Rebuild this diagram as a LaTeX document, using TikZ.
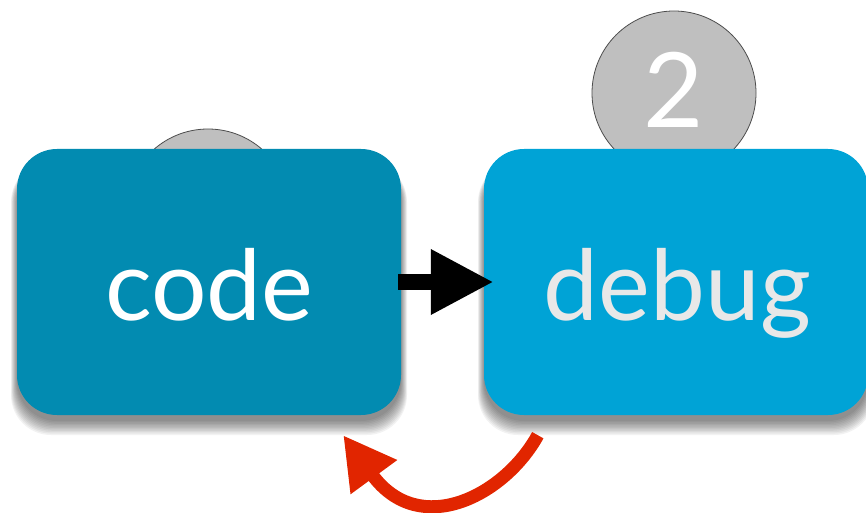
\documentclass[tikz,border=0pt]{standalone}
\usepackage{fontspec}
\setmainfont{Lato}
\usetikzlibrary{arrows.meta,calc}
\definecolor{codeblue}{HTML}{028BB1}
\definecolor{debugblue}{HTML}{00A3D6}
\definecolor{loopred}{HTML}{E12500}
\definecolor{badgegray}{HTML}{BFBFBF}
\definecolor{debugtext}{HTML}{E8E8E8}
\tikzset{
  stagebox/.style={rounded corners=40pt, minimum width=384pt, minimum height=266pt, inner sep=0pt, draw=none},
  badge/.style={circle, minimum size=164pt, inner sep=0pt, fill=badgegray, draw=black!70, line width=0.8pt},
  bigtext/.style={font=\fontsize{98}{110}\selectfont, inner sep=0pt, anchor=base},
  boxshadow/.style={fill=black, opacity=0.05, rounded corners=40pt},
}
\begin{document}
\begin{tikzpicture}[x=1pt,y=-1pt]
\useasboundingbox (0,0) rectangle (866,513);
\clip (0,0) rectangle (866,513);
% badges behind boxes
\node[badge] (b1) at (208,211) {};
\node[badge] (b2) at (674,93) {};
% boxes (positions)
\coordinate (codec) at (209,282);
\coordinate (debugc) at (676,282);
% shadows
\foreach \i in {0,...,10}{
  \pgfmathsetmacro{\s}{\i*0.6}
  \pgfmathsetmacro{\b}{\i*1.4}
  \fill[boxshadow] ($(codec)+(-192-\s,-120)$) rectangle ($(codec)+(192+\s,139+\b)$);
  \fill[boxshadow] ($(debugc)+(-192-\s,-120)$) rectangle ($(debugc)+(192+\s,139+\b)$);
}
\node[stagebox, fill=codeblue] (code) at (codec) {};
\node[stagebox, fill=debugblue] (debug) at (debugc) {};
% badge number
\node[bigtext, text=white, font=\fontsize{104}{110}\selectfont] (n2) at (674,128) {2};
% labels
\node[bigtext, text=white] (codelabel) at (209.5,320) {code};
\node[bigtext, text=debugtext] (debuglabel) at (677.5,320) {debug};
% forward arrow
\draw[line width=16pt, -{Triangle[length=63pt,width=61pt]}, shorten <=-3pt]
  (code.east |- 0,282) -- ([xshift=10pt]debug.west |- 0,282);
% loop back arrow
\coordinate (loopstart) at ($(debug.south west)+(54,20)$);
\coordinate (loopend) at ($(code.south east)+(-58,20)$);
\draw[loopred, line width=13pt, -{Triangle[length=52pt,width=54pt]}]
  (loopstart) .. controls (505,495) and (420,540) .. (loopend);
\end{tikzpicture}
\end{document}
